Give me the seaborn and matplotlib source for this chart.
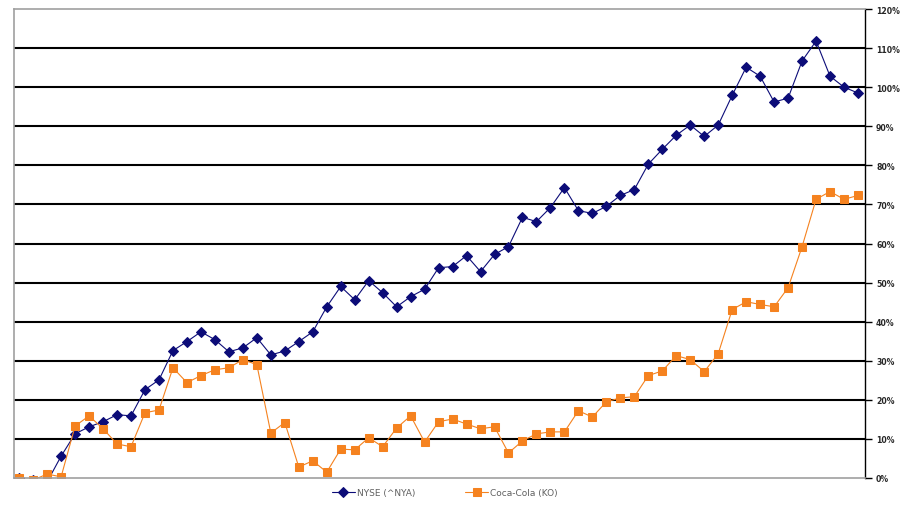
import numpy as np
import pandas as pd
import seaborn as sns
import matplotlib.pyplot as plt
from matplotlib.ticker import FuncFormatter

# cumulative return (%) per period
nyse = [0, -0.5, -1.0, 5.6, 11.3, 13.1, 14.4, 16.2, 15.9, 22.6,
        25.1, 32.6, 34.9, 37.4, 35.4, 32.3, 33.3, 35.9, 31.5, 32.5,
        34.9, 37.4, 43.8, 49.0, 45.6, 50.5, 47.4, 43.8, 46.4, 48.3,
        53.8, 54.1, 56.9, 52.8, 57.2, 59.2, 66.7, 65.6, 69.2, 74.3,
        68.4, 67.7, 69.5, 72.3, 73.8, 80.3, 84.1, 87.7, 90.3, 87.4,
        90.3, 97.9, 105.1, 102.8, 96.2, 97.2, 106.7, 111.8, 102.8, 100.0,
        98.5]
ko = [0, -0.5, 1.0, 0.3, 13.3, 15.9, 12.6, 8.7, 8.0, 16.7,
      17.4, 28.2, 24.4, 26.2, 27.7, 28.2, 30.3, 29.0, 11.5, 14.2,
      2.8, 4.4, 1.5, 7.4, 7.2, 10.3, 8.0, 12.8, 15.9, 9.2,
      14.4, 15.1, 13.8, 12.6, 13.1, 6.4, 9.5, 11.3, 11.8, 11.8,
      17.2, 15.6, 19.5, 20.5, 20.8, 26.2, 27.4, 31.3, 30.3, 27.2,
      31.8, 43.1, 45.1, 44.4, 43.8, 48.7, 59.2, 71.3, 73.3, 71.3,
      72.3]
series_names = ["NYSE (^NYA)", "Coca-Cola (KO)"]
y_ticks = list(range(0, 130, 10))

period = np.arange(len(nyse))
df = pd.DataFrame({"period": period, "nyse": nyse, "ko": ko})

sns.set_style("white")
fig = plt.figure(figsize=(9.01, 5.10), dpi=100)
ax = fig.add_axes([14 / 901, 31 / 510, 851 / 901, 469 / 510])

sns.lineplot(data=df, x="period", y="nyse", ax=ax, color="#0c0c78",
             marker="D", markersize=5.5, markeredgecolor="#0c0c78",
             linewidth=0.8, label=series_names[0])
sns.lineplot(data=df, x="period", y="ko", ax=ax, color="#f5821f",
             marker="s", markersize=6.3, markeredgecolor="#f5821f",
             linewidth=0.8, label=series_names[1])

ax.set_xlim(-0.37, 60.5)
ax.set_ylim(0, 120)
ax.set_xlabel("")
ax.set_ylabel("")
ax.set_xticks([])

ax.yaxis.tick_right()
ax.set_yticks(y_ticks)
ax.yaxis.set_major_formatter(FuncFormatter(lambda v, p: f"{int(v)}%"))
ax.tick_params(axis="y", which="major", direction="out", length=5, width=1,
               color="black", labelsize=5.6, pad=3)
for lab in ax.get_yticklabels():
    lab.set_fontweight("bold")

ax.grid(axis="y", color="black", linewidth=1.5, zorder=0)
ax.set_axisbelow(True)
glines = ax.get_ygridlines()
glines[0].set_visible(False)
glines[-1].set_visible(False)

for side in ["left", "top", "bottom"]:
    ax.spines[side].set_color("#a0a0a0")
    ax.spines[side].set_linewidth(1.2)
ax.spines["right"].set_color("black")
ax.spines["right"].set_linewidth(1)

leg = ax.legend(loc="upper center", bbox_to_anchor=(0.506, -0.005), ncol=2,
                frameon=False, fontsize=6.5, handlelength=2.6,
                columnspacing=5.5, handletextpad=0.2)
for t in leg.get_texts():
    t.set_color("#606060")

fig.savefig("out.png", dpi=100)
